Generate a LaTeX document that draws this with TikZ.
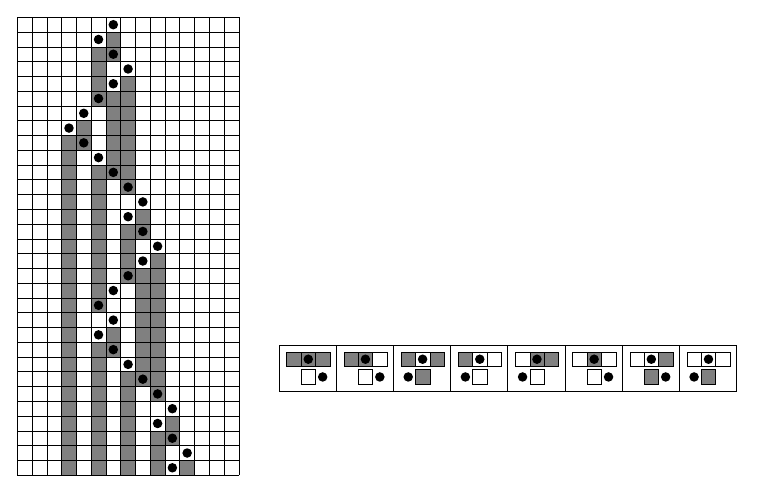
\documentclass[tikz,border=0pt]{standalone}
\usepackage{tikz}
\usetikzlibrary{positioning}
\colorlet{gry}{black!50}
\tikzset{
 head/.style={shape=circle,fill=black,inner sep=0pt,minimum size=9.5bp},
 tape/.style={draw=black,line width=0.6bp},
 rulecell/.style={draw=black,line width=0.5bp}
}

\begin{document}
\begin{tikzpicture}[x=14.77bp,y=14.77bp]
\useasboundingbox (-1.171,1.171) rectangle (50.42,-32.0);

% grey runs on the tape: column/first step/last step
\foreach \c/\a/\b in {3/8/30,4/7/8,5/2/5,5/10/19,5/22/30,6/1/2,6/5/10,6/21/22,7/4/11,7/14/17,7/24/30,8/13/14,8/17/24,9/16/25,9/28/30,10/27/28,11/30/30}
  \fill[gry] (\c,-\a) rectangle (\c+1,-\b-1);
\draw[tape,step=1] (0,0) grid (15,-31);

% active cell at each step
\foreach \r/\c in {0/6,1/5,2/6,3/7,4/6,5/5,6/4,7/3,8/4,9/5,10/6,11/7,12/8,13/7,14/8,15/9,16/8,17/7,18/6,19/5,20/6,21/5,22/6,23/7,24/8,25/9,26/10,27/9,28/10,29/11,30/10}
  \path (\c+.5,-\r-.5) node[head,name=h\r] {};

% the rules
\draw[tape] (17.72,-22.21) rectangle (48.69,-25.32);
\foreach \k/\l/\m/\n/\o/\d in {0/gry/gry/gry/white/1,1/gry/gry/white/white/1,2/gry/white/gry/gry/-1,3/gry/white/white/white/-1,4/white/gry/gry/white/-1,5/white/gry/white/white/1,6/white/white/gry/gry/1,7/white/white/white/gry/-1}{
  \pgfmathsetmacro\L{17.72+3.871*\k}
  \ifnum\k>0 \draw[tape] (\L,-22.21) -- (\L,-25.32); \fi
  \draw[rulecell,fill=\l] (\L+.52,-22.66) rectangle ++(.975,-.975);
  \draw[rulecell,fill=\m] (\L+1.495,-22.66) rectangle ++(.975,-.975);
  \draw[rulecell,fill=\n] (\L+2.47,-22.66) rectangle ++(.975,-.975);
  \draw[rulecell,fill=\o] (\L+1.495,-23.86) rectangle ++(.975,-.975);
  \path (\L+1.98,-23.15) node[head,name=t\k] {};
  \path (\L+1.98+.975*\d,-24.35) node[head,name=b\k] {};
}

\end{tikzpicture}
\end{document}
